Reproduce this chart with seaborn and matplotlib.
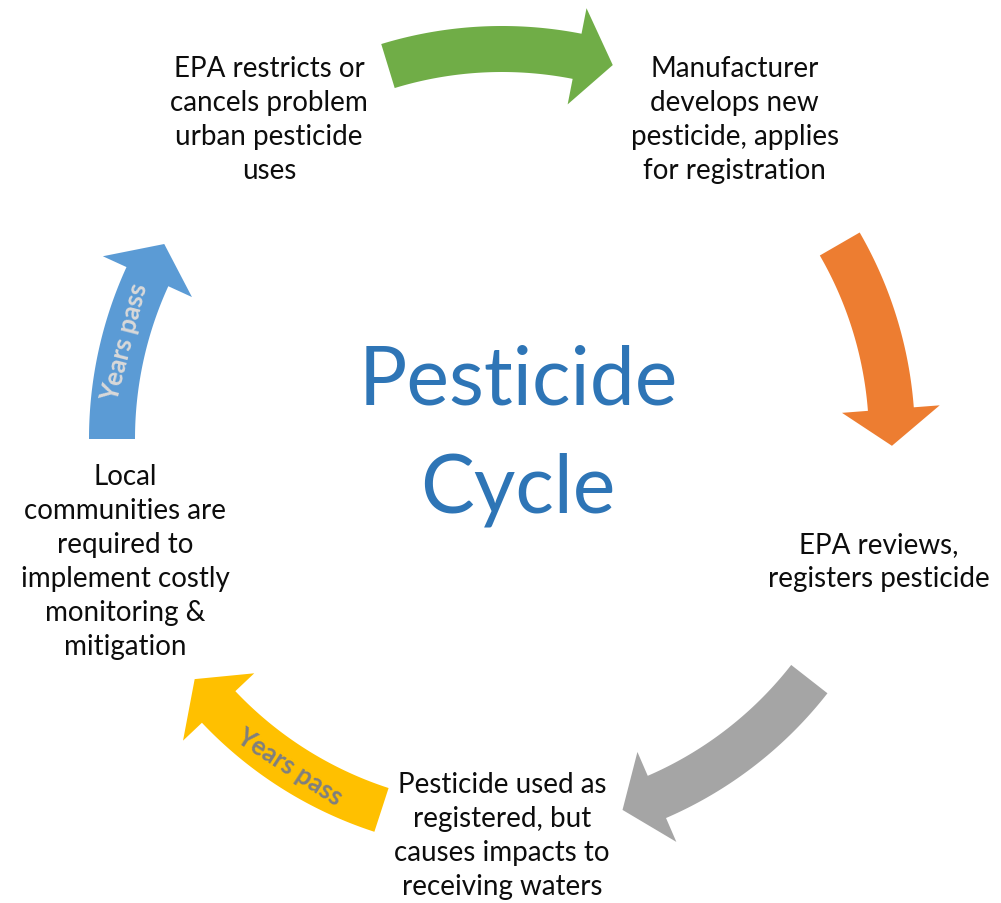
import numpy as np
import matplotlib.pyplot as plt
import seaborn as sns
from matplotlib.patches import Polygon

sns.set_theme(style="white")
plt.rcParams['font.family'] = ['Lato', 'DejaVu Sans']

# stages of the cycle (clockwise from top-left)
stage_labels = [
    "EPA restricts or\ncancels problem\nurban pesticide\nuses",
    "Manufacturer\ndevelops new\npesticide, applies\nfor registration",
    "EPA reviews,\nregisters pesticide",
    "Pesticide used as\nregistered, but\ncauses impacts to\nreceiving waters",
    "Local\ncommunities are\nrequired to\nimplement costly\nmonitoring &\nmitigation",
]
stage_angles = [126, 54, -18, -90, 198]

# arrows between stages: tail angle -> tip angle (degrees, clockwise)
arrow_colors = ["#70AD47", "#ED7D31", "#A5A5A5", "#FFC000", "#5B9BD5"]
arrow_tail = [107, 30, -38, -108, 180]
arrow_tip = [73.5, -1, -72, -142, 150]
arrow_text = ["", "", "", "Years pass", "Years pass"]
arrow_text_angle = [0, 0, 0, -123, 165.5]
arrow_text_color = ["", "", "", "#7F7F7F", "#D9D9D9"]

title_lines = ["Pesticide", "Cycle"]

CX, CY = 502, 440
R_ARROW = 390
R_TEXT = 396
SHAFT = 46
HEAD_W = 98
HEAD_DEG = 5.4
LINE_H = 34


def to_xy(r, ang):
    a = np.radians(ang)
    return CX + r * np.cos(a), CY - r * np.sin(a)


def arrow_polygon(a0, a1):
    sgn = np.sign(a0 - a1)
    base = a1 + sgn * HEAD_DEG
    ts = np.linspace(a0, base, 80)
    outer = [to_xy(R_ARROW + SHAFT / 2, t) for t in ts]
    inner = [to_xy(R_ARROW - SHAFT / 2, t) for t in ts[::-1]]
    head = [to_xy(R_ARROW + HEAD_W / 2, base), to_xy(R_ARROW, a1),
            to_xy(R_ARROW - HEAD_W / 2, base)]
    return np.array(outer + head + inner)


fig = plt.figure(figsize=(10.01, 9.04), dpi=100)
ax = fig.add_axes([0, 0, 1, 1])
ax.set_xlim(0, 1001)
ax.set_ylim(904, 0)
ax.axis("off")

for a0, a1, col, txt, ta, tc in zip(arrow_tail, arrow_tip, arrow_colors,
                                    arrow_text, arrow_text_angle, arrow_text_color):
    ax.add_patch(Polygon(arrow_polygon(a0, a1), closed=True, facecolor=col,
                         edgecolor="none"))
    if txt:
        x, y = to_xy(R_ARROW, ta)
        # tangent direction for clockwise flow
        rot = ta - 90
        if rot < -90:
            rot += 180
        if rot > 90:
            rot -= 180
        ax.text(x, y, txt, fontsize=18.5, fontweight="bold", color=tc,
                rotation=rot, ha="center", va="center", rotation_mode="anchor")

for label, ang in zip(stage_labels, stage_angles):
    x, y = to_xy(R_TEXT, ang)
    lines = label.split("\n")
    n = len(lines)
    for i, line in enumerate(lines):
        ax.text(x, y + (i - (n - 1) / 2) * LINE_H, line, fontsize=20,
                color="#0D0D0D", ha="center", va="center")

ax.text(518, 405, title_lines[0], fontsize=58, color="#2E75B6",
        ha="center", va="baseline")
ax.text(518, 513, title_lines[1], fontsize=58, color="#2E75B6",
        ha="center", va="baseline")

fig.savefig("out.png", dpi=100, facecolor="white")
